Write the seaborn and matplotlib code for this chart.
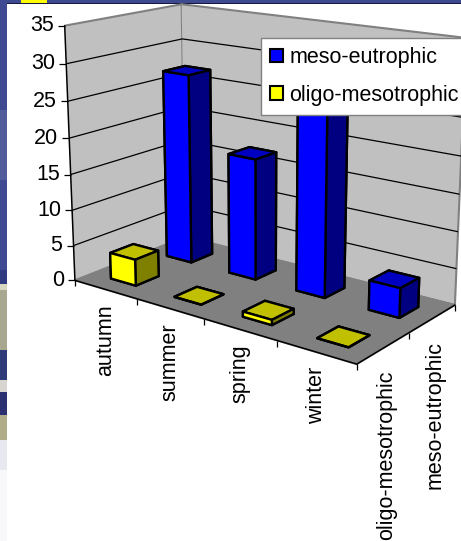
import numpy as np
import pandas as pd
import seaborn as sns
import matplotlib
matplotlib.use('Agg')
import matplotlib.pyplot as plt
from matplotlib.patches import Patch, Rectangle
from mpl_toolkits.mplot3d import proj3d

seasons = ['autumn', 'summer', 'spring', 'winter']
classes = ['oligo-mesotrophic', 'meso-eutrophic']
meso_eutrophic = [27, 17, 30, 4]
oligo_mesotrophic = [3.7, 0, 0.7, 0]
value_ticks = [0, 5, 10, 15, 20, 25, 30, 35]

table = pd.DataFrame({'oligo-mesotrophic': oligo_mesotrophic,
                      'meso-eutrophic': meso_eutrophic}, index=seasons)

sns.set_theme(style='white', rc={'grid.color': 'black', 'grid.linewidth': 0.9})
plt.rcParams['font.family'] = ['Liberation Sans', 'DejaVu Sans']
FS = 15.5

# front face, top face and side face of each series
shades = {'oligo-mesotrophic': ('#ffff00', '#c0c000', '#808000'),
          'meso-eutrophic': ('#0000ff', '#0000c0', '#000080')}

fig = plt.figure(figsize=(4.61, 5.41), dpi=100, facecolor='white')
ax = fig.add_axes([23.41 / 461, 98.68 / 541, 1, 1], projection='3d',
                  computed_zorder=False)
ax.patch.set_alpha(0)
ax.set_xlim(0, 4, view_margin=0)
ax.set_ylim(0, 2, view_margin=0)
ax.set_zlim(0, 35, view_margin=0)
ax.view_init(15.524, -52.847)
ax.set_proj_type('persp', focal_length=0.5267)
ax.set_box_aspect((1, 0.5083, 0.7650), zoom=1.0106)

# walls and floor
for axis, shade in ((ax.xaxis, '#c0c0c0'), (ax.yaxis, '#c0c0c0'), (ax.zaxis, '#808080')):
    axis.set_pane_color(shade)
    axis.pane.set_edgecolor('#808080')
    axis.pane.set_linewidth(1.5)
    axis.line.set_color((0, 0, 0, 0))
ax.set_xticks([])
ax.set_yticks([])
ax.set_zticks(value_ticks[1:-1])
ax.set_zticklabels([])
ax.tick_params(axis='z', color=(0, 0, 0, 0))
ax.grid(True)
ax.zaxis._axinfo['grid'].update(color='black', linewidth=0.9)

proj = ax.get_proj()


def anchor(x, y, z):
    px, py, _ = proj3d.proj_transform(x, y, z, proj)
    return px, py


def label(x, y, z, text, offset, **kw):
    ax.annotate(text, anchor(x, y, z), xytext=offset, textcoords='offset pixels',
                fontsize=FS, color='black', annotation_clip=False, **kw)


# axis lines and tick marks
ax.plot([0, 0], [0, 0], [0, 35], color='black', lw=1.1, zorder=2)
ax.plot([0, 4, 4], [0, 0, 2], [0, 0, 0], color='black', lw=1.1, zorder=2)
for v in value_ticks:
    ax.plot([0], [0], [v], marker=0, ms=5, mew=0.9, color='black', zorder=2)
    label(0, 0, v, str(v), (-11, 0), ha='right', va='center')
for i in range(len(seasons) + 1):
    ax.plot([i], [0], [0], marker=3, ms=4.5, mew=0.9, color='black', zorder=2)
for j in range(1, len(classes) + 1):
    ax.plot([4], [j], [0], marker=3, ms=4.5, mew=0.9, color='black', zorder=2)

for i, name in enumerate(seasons):
    label(i + 0.5, 0, 0, name, (0, -15), rotation=90, ha='center', va='top')
for j, name in enumerate(classes):
    label(4, j + 0.5, 0, name, (3, -22), rotation=90, ha='center', va='top')

# bars, painted from the back row to the front row
WIDTH = 0.4
z = 3
for j, name in reversed(list(enumerate(classes))):
    front, top, side = shades[name]
    for i, season in enumerate(seasons):
        h = table.loc[season, name]
        faces = [top, top, front, front, side, side]
        bar = ax.bar3d([i + (1 - WIDTH) / 2], [j + (1 - WIDTH) / 2], [0],
                       WIDTH, WIDTH, h, color=faces, shade=False,
                       edgecolor='black', linewidth=1.7)
        bar.set_zorder(z)
        z += 1

handles = [Patch(facecolor=shades[n][0], edgecolor='black', linewidth=1.5, label=n)
           for n in reversed(classes)]
leg = fig.legend(handles=handles, loc='upper left',
                 bbox_to_anchor=(261 / 461, 1 - 38 / 541), borderaxespad=0,
                 fontsize=FS, frameon=True, fancybox=False, framealpha=1,
                 edgecolor='#808080', labelcolor='black', handlelength=0.6, handleheight=0.6,
                 handletextpad=0.3, borderpad=0.42, labelspacing=0.77)
leg.get_frame().set_linewidth(1)

# slide backdrop around the chart area
W, H = 461, 541
def backdrop(x0, y0, x1, y1, colour):
    fig.add_artist(Rectangle((x0 / W, 1 - y1 / H), (x1 - x0) / W, (y1 - y0) / H,
                             transform=fig.transFigure, facecolor=colour,
                             edgecolor='none', zorder=-1))

backdrop(0, 0, W, 3, '#3d4a90')
backdrop(7, 3, W, 4, '#14183c')
backdrop(21, 0, 47, 3, '#ffff00')
for y0, y1, colour in [(0, 110, '#3f4a92'), (110, 180, '#525c9a'), (180, 270, '#3f4a92'),
                       (270, 284, '#2f3a80'), (284, 290, '#d8d8c0'), (290, 350, '#a8a890'),
                       (350, 380, '#2f3a78'), (380, 392, '#d8d4d0'), (392, 415, '#2a3070'),
                       (415, 440, '#b0ac88'), (440, 470, '#e8e8f0'), (470, 541, '#f8f8fa')]:
    backdrop(0, y0, 7, y1, colour)

fig.savefig('out.png', dpi=100)
